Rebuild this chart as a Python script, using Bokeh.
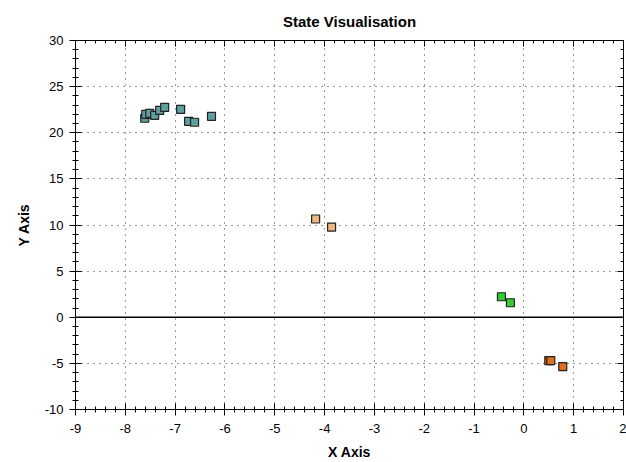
from bokeh.plotting import figure
from bokeh.models import (LinearAxis, SingleIntervalTicker, Span, ColumnDataSource,
                          PrintfTickFormatter, CustomJSTickFormatter)
from bokeh.embed import file_html
from bokeh.resources import INLINE

# Data
teal_x = [-7.61, -7.59, -7.51, -7.41, -7.31, -7.21, -6.89, -6.73, -6.61, -6.27]
teal_y = [21.57, 22.0, 22.11, 21.89, 22.43, 22.76, 22.54, 21.24, 21.14, 21.78]
tan_x = [-4.18, -3.86]
tan_y = [10.65, 9.78]
green_x = [-0.45, -0.27]
green_y = [2.22, 1.57]
orange_x = [0.50, 0.54, 0.78]
orange_y = [-4.70, -4.70, -5.35]

FONT = "Liberation Sans"

p = figure(width=626, height=462, x_range=(-9, 2), y_range=(-10, 30),
           output_backend="svg", toolbar_location=None,
           min_border_left=75, min_border_right=3, min_border_top=39, min_border_bottom=53,
           title="State Visualisation")
p.background_fill_color = "white"
p.border_fill_color = "white"
p.outline_line_color = "black"
p.outline_line_width = 1

p.title.align = "center"
p.title.text_font = FONT
p.title.text_font_style = "bold"
p.title.text_font_size = "15px"
p.title.text_color = "black"
p.title.offset = -27
p.title.standoff = 21

xt = SingleIntervalTicker(interval=1, num_minor_ticks=5)
yt = SingleIntervalTicker(interval=5, num_minor_ticks=5)
p.xaxis.ticker = xt
p.yaxis.ticker = yt
p.xaxis.formatter = PrintfTickFormatter(format="%d")
p.yaxis.formatter = PrintfTickFormatter(format="%d")
p.xaxis.axis_label = "X Axis"
p.yaxis.axis_label = "Y Axis"
for ax in (p.xaxis, p.yaxis):
    ax.axis_label_text_font = FONT
    ax.axis_label_text_font_style = "bold"
    ax.axis_label_text_font_size = "14px"
    ax.major_label_text_font = FONT
    ax.major_label_text_font_size = "13px"
    ax.major_label_text_color = "black"
    ax.axis_line_color = "black"
    ax.major_tick_line_color = "black"
    ax.minor_tick_line_color = "black"
    ax.major_tick_in = 6
    ax.major_tick_out = 6
    ax.minor_tick_in = 3
    ax.minor_tick_out = 3
    ax.axis_label_text_color = "black"
p.xaxis.major_label_standoff = 8
p.yaxis.major_label_standoff = 6
p.xaxis.axis_label_standoff = 8
p.yaxis.axis_label_standoff = 10

top = LinearAxis(ticker=SingleIntervalTicker(interval=1, num_minor_ticks=5))
right = LinearAxis(ticker=SingleIntervalTicker(interval=5, num_minor_ticks=5))
for ax in (top, right):
    ax.formatter = CustomJSTickFormatter(code="return '';")
    ax.major_label_standoff = 0
    ax.major_tick_out = 0
    ax.minor_tick_out = 0
    ax.major_tick_in = 6
    ax.minor_tick_in = 3
    ax.axis_line_color = "black"
    ax.major_tick_line_color = "black"
    ax.minor_tick_line_color = "black"
p.add_layout(top, "above")
p.add_layout(right, "right")

p.xgrid.ticker = xt
p.ygrid.ticker = yt
for g in (p.xgrid, p.ygrid):
    g.grid_line_color = "black"
    g.grid_line_dash = "1 5"
    g.grid_line_alpha = 0.8
    g.grid_line_width = 1

p.add_layout(Span(location=0, dimension="width", line_color="black", line_width=1.5))

groups = [
    (teal_x, teal_y, "#5f9ea0"),
    (tan_x, tan_y, "#eab882"),
    (green_x, green_y, "#33cc33"),
    (orange_x, orange_y, "#e06c1e"),
]
for xs, ys, c in groups:
    src = ColumnDataSource(dict(x=xs, y=ys))
    p.scatter("x", "y", source=src, marker="square", size=8,
              fill_color=c, line_color="#222222", line_width=1.2)

open("out.html", "w").write(file_html(p, INLINE))
